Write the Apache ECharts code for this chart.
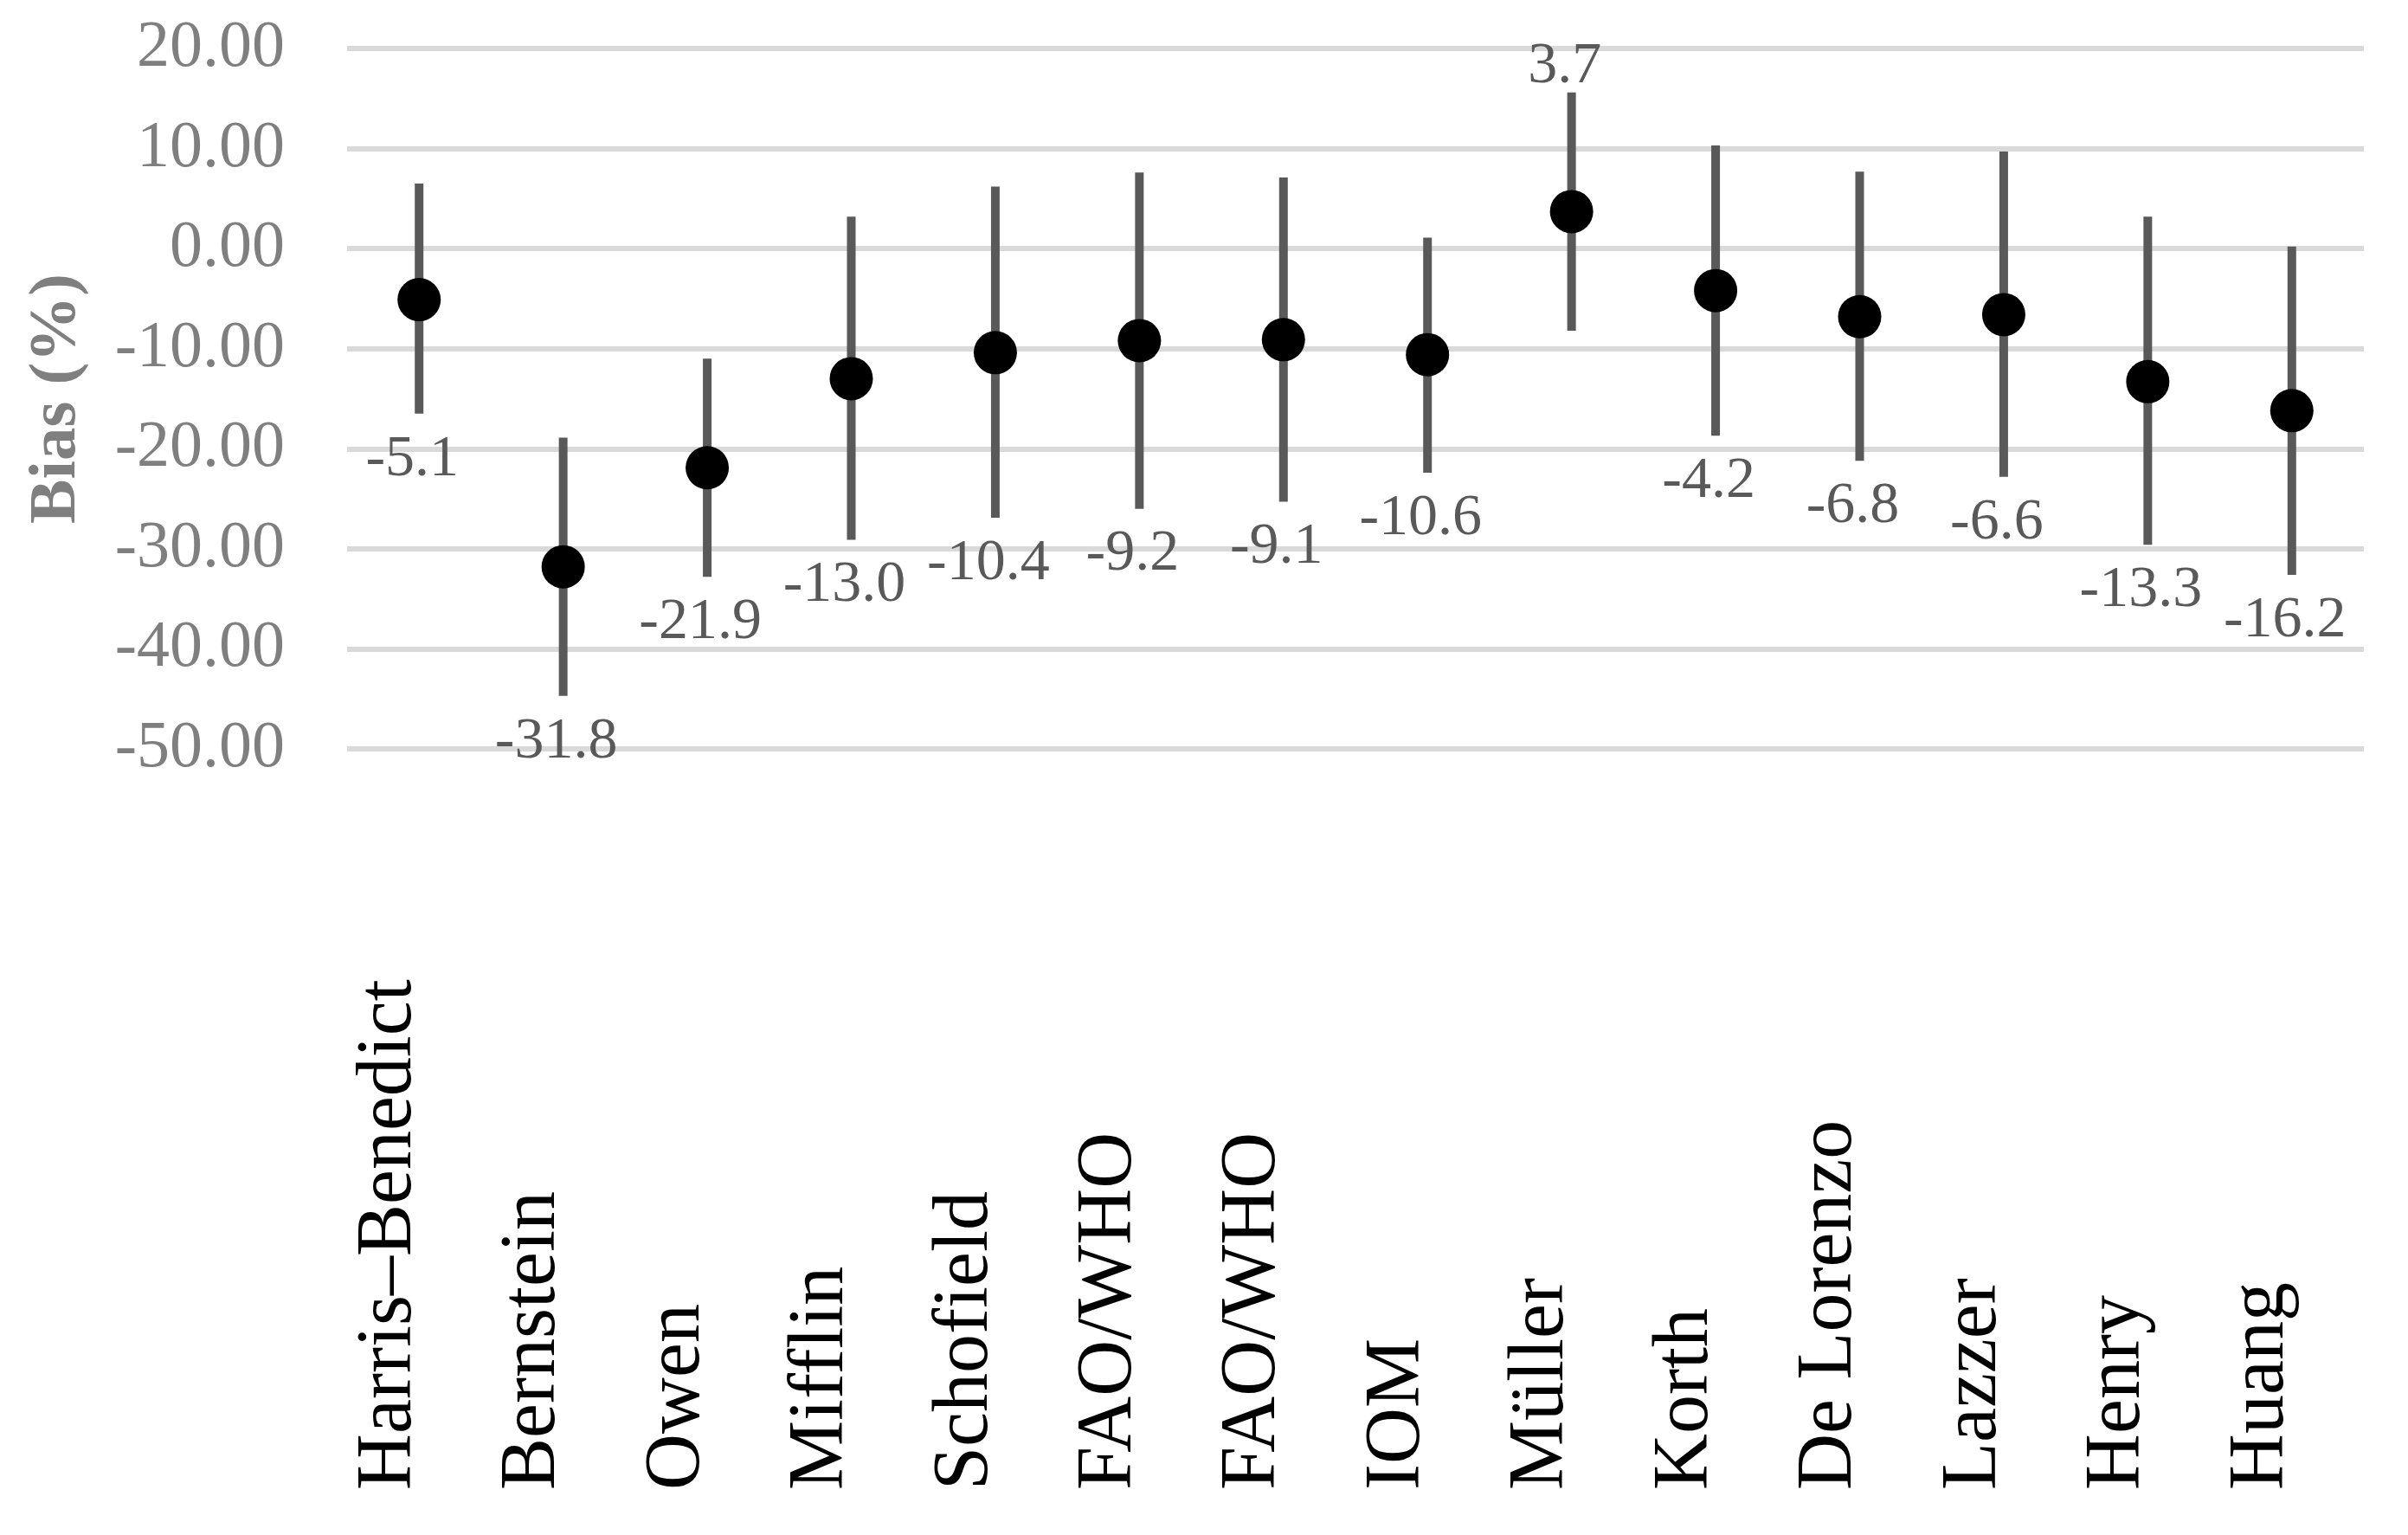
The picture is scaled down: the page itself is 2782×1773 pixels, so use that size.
<!DOCTYPE html>
<html>
<head>
<meta charset="utf-8">
<script src="https://cdn.jsdelivr.net/npm/echarts@6/dist/echarts.min.js"></script>
<style>
  html, body { margin: 0; padding: 0; background: #fff; }
  #main { width: 2782px; height: 1773px; }
</style>
</head>
<body>
<div id="main"></div>
<script>
// equations
var categories = ['Harris–Benedict', 'Bernstein', 'Owen', 'Mifflin', 'Schofield', 'FAO/WHO', 'FAO/WHO',
  'IOM', 'Müller', 'Korth', 'De Lorenzo', 'Lazzer', 'Henry', 'Huang'];
// mean bias (%)
var bias = [-5.1, -31.8, -21.9, -13.0, -10.4, -9.2, -9.1, -10.6, 3.7, -4.2, -6.8, -6.6, -13.3, -16.2];
// limits of agreement
var upper = [6.5, -18.9, -11.0, 3.2, 6.2, 7.6, 7.1, 1.1, 15.6, 10.3, 7.7, 9.7, 3.2, 0.2];
var lower = [-16.5, -44.7, -32.8, -29.1, -26.9, -26.0, -25.3, -22.4, -8.2, -18.7, -21.2, -22.8, -29.6, -32.6];
var yTicks = [-50, -40, -30, -20, -10, 0, 10, 20];

var serif = '"Liberation Serif", "DejaVu Serif", serif';

var barData = categories.map(function (c, i) {
  return [i, lower[i], upper[i], bias[i]];
});

var myChart = echarts.init(document.getElementById('main'));
myChart.setOption({
  backgroundColor: '#fff',
  animation: false,
  grid: {
    left: 401,
    right: 51,
    top: 56,
    bottom: 908
  },
  xAxis: {
    type: 'category',
    data: categories,
    axisLine: { show: false },
    axisTick: { show: false },
    axisLabel: {
      interval: 0,
      rotate: 90,
      align: 'left',
      // bottom + short line height: names sit a bit left of their tick, like the original
      verticalAlign: 'bottom',
      lineHeight: 68,
      margin: 856,
      color: '#000',
      fontFamily: serif,
      fontSize: 90
    }
  },
  yAxis: {
    type: 'value',
    min: yTicks[0],
    max: yTicks[yTicks.length - 1],
    interval: 10,
    name: 'Bias (%)',
    nameLocation: 'middle',
    nameGap: 296,
    nameTextStyle: {
      color: '#7f7f7f',
      fontFamily: serif,
      fontWeight: 'bold',
      fontSize: 77
    },
    axisLine: { show: false },
    axisTick: { show: false },
    axisLabel: {
      margin: 72,
      color: '#7f7f7f',
      fontFamily: serif,
      fontSize: 76,
      formatter: function (v) { return v.toFixed(2); }
    },
    splitLine: { lineStyle: { color: '#d9d9d9', width: 6 } }
  },
  series: [
    {
      type: 'custom',
      data: barData,
      z: 2,
      renderItem: function (params, api) {
        var top = api.coord([api.value(0), api.value(2)]);
        var bot = api.coord([api.value(0), api.value(1)]);
        var m = api.value(3);
        var txt = m.toFixed(1);
        // label sits under the lower end, or over the upper end when bias is positive
        var ly = m > 0 ? top[1] - 30 : bot[1] + 53;
        return {
          type: 'group',
          children: [
            {
              type: 'line',
              shape: { x1: top[0], y1: top[1], x2: bot[0], y2: bot[1] },
              style: { stroke: '#595959', lineWidth: 10 }
            },
            {
              type: 'text',
              x: top[0] - 8,
              y: ly,
              style: {
                text: txt,
                fill: '#595959',
                font: '68px ' + serif,
                align: 'center',
                verticalAlign: 'middle'
              }
            }
          ]
        };
      }
    },
    {
      type: 'scatter',
      data: bias,
      z: 3,
      symbol: 'circle',
      symbolSize: 50,
      itemStyle: { color: '#000', opacity: 1 }
    }
  ]
});
</script>
</body>
</html>
